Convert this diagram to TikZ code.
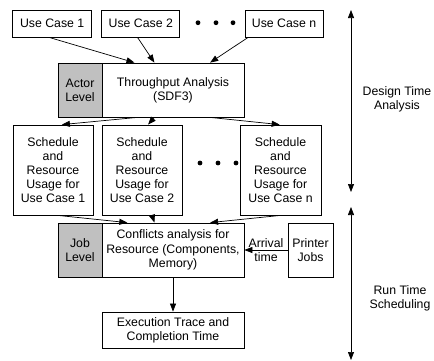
\documentclass[tikz,border=0pt]{standalone}
\usepackage{fontspec}
\setmainfont{Liberation Sans}
\usetikzlibrary{arrows.meta,calc}
\definecolor{levelgray}{RGB}{192,192,192}
\begin{document}
\begin{tikzpicture}[x=1pt,y=-1pt,
    box/.style={draw, line width=0.8pt, align=center, inner sep=1pt,
      font=\fontsize{12.3}{14.2}\selectfont},
    lvl/.style={box, fill=levelgray},
    arr/.style={-{Triangle[length=8pt,width=6pt]}, line width=0.7pt},
    both/.style={{Triangle[length=8pt,width=6pt]}-{Triangle[length=8pt,width=6pt]}, line width=0.7pt},
    lbl/.style={align=center, font=\fontsize{12.3}{14.2}\selectfont}]
    \useasboundingbox (0,0) rectangle (434,360);
    % use cases
    \node[box, minimum width=79pt, minimum height=27pt] (uc1) at (52.2,23.7) {Use Case 1};
    \node[box, minimum width=78pt, minimum height=27pt] (uc2) at (140.8,23.7) {Use Case 2};
    \node[box, minimum width=78pt, minimum height=27pt] (ucn) at (284,23.7) {Use Case n};
    \foreach \x in {198,216,233} \fill (\x,22.7) circle (2.4);
    % throughput analysis
    \node[lvl, minimum width=44pt, minimum height=54pt] (actor) at (80,90) {Actor\\Level};
    \node[box, minimum width=142pt, minimum height=54pt] (tp) at (173,90) {Throughput Analysis\\(SDF3)};
    \draw[arr] ($(uc1.south west)!0.47!(uc1.south east)$) -- ($(tp.north west)!0.23!(tp.north east)$);
    \draw[arr] ($(uc2.south west)!0.46!(uc2.south east)$) -- ($(tp.north west)!0.37!(tp.north east)$);
    \draw[arr] ($(ucn.south west)!0.04!(ucn.south east)$) -- ($(tp.north west)!0.76!(tp.north east)$);
    % schedules
    \node[box, minimum width=80pt, minimum height=90pt] (sc1) at (53,170) {Schedule\\and\\Resource\\Usage for\\Use Case 1};
    \node[box, minimum width=80pt, minimum height=90pt] (sc2) at (142,170) {Schedule\\and\\Resource\\Usage for\\Use Case 2};
    \node[box, minimum width=81pt, minimum height=90pt] (scn) at (280.5,170) {Schedule\\and\\Resource\\Usage for\\Use Case n};
    \foreach \x in {200,218,236} \fill (\x,163) circle (2.4);
    \draw[arr] ($(tp.south west)!0.25!(tp.south east)$) -- ($(sc1.north west)!0.61!(sc1.north east)$);
    \draw[arr] ($(tp.south west)!0.37!(tp.south east)$) -- ($(sc2.north west)!0.575!(sc2.north east)$);
    \draw[arr] ($(tp.south west)!0.76!(tp.south east)$) -- ($(scn.north west)!0.49!(scn.north east)$);
    % conflicts analysis
    \node[lvl, minimum width=44pt, minimum height=54pt] (job) at (80,250) {Job\\Level};
    \node[box, minimum width=142pt, minimum height=54pt] (cf) at (173,250) {Conflicts analysis for\\Resource (Components,\\Memory)};
    \node[box, minimum width=45pt, minimum height=54pt] (pj) at (310.5,250) {Printer\\Jobs};
    \draw[arr] ($(sc1.south west)!0.56!(sc1.south east)$) -- ($(cf.north west)!0.18!(cf.north east)$);
    \draw[arr] ($(sc2.south west)!0.625!(sc2.south east)$) -- ($(cf.north west)!0.37!(cf.north east)$);
    \draw[arr] (scn.south) -- ($(cf.north west)!0.76!(cf.north east)$);
    \draw[arr] (pj.west) -- node[lbl] {Arrival\\time} (cf.east);
    % execution
    \node[box, minimum width=142pt, minimum height=36pt] (ex) at (173,330) {Execution Trace and\\Completion Time};
    \draw[arr] (cf.south) -- (ex.north);
    % time spans
    \coordinate (dtTop) at (351,10);
    \coordinate (dtBot) at (351,192);
    \coordinate (rtTop) at (351,207);
    \coordinate (rtBot) at (351,360);
    \draw[both] (dtTop) -- (dtBot);
    \draw[both] (rtTop) -- (rtBot);
    \node[lbl] (dt) at (397,99) {Design Time\\Analysis};
    \node[lbl] (rt) at (400,298) {Run Time\\Scheduling};
\end{tikzpicture}
\end{document}
